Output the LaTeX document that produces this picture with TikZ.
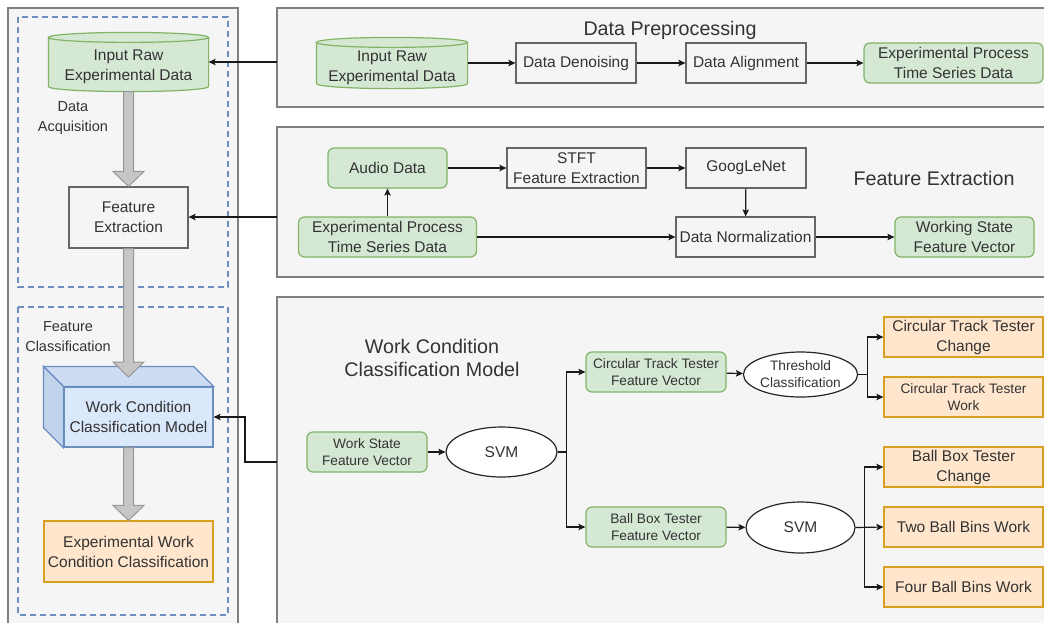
\documentclass[tikz,border=0pt]{standalone}
\usepackage{fontspec}
\setmainfont{Liberation Sans}
\usetikzlibrary{arrows.meta,calc,shapes.geometric}
\definecolor{panelfill}{HTML}{F5F5F5}
\definecolor{panelline}{HTML}{808080}
\definecolor{txt}{HTML}{333333}
\definecolor{plainline}{HTML}{666666}
\definecolor{grnfill}{HTML}{D5E8D4}
\definecolor{grnline}{HTML}{82B366}
\definecolor{orgfill}{HTML}{FFE6CC}
\definecolor{orgline}{HTML}{D7A020}
\definecolor{blufill}{HTML}{DAE8FC}
\definecolor{blutop}{HTML}{CCDCF2}
\definecolor{bluside}{HTML}{C2D3EC}
\definecolor{bluline}{HTML}{6C8EBF}
\definecolor{fatfill}{HTML}{C6C6C6}
\definecolor{fatline}{HTML}{969696}
\newcommand\txtN{\fontsize{15.5}{20}\selectfont}
\newcommand\txtS{\fontsize{13.7}{17}\selectfont}
\newcommand\txtT{\fontsize{19.7}{23}\selectfont}
\newcommand\txtL{\fontsize{14.5}{20}\selectfont}
\pgfdeclarelayer{background}
\pgfsetlayers{background,main}
\tikzset{
  panel/.style={draw=panelline,fill=panelfill,line width=1.2pt},
  groupframe/.style={draw=bluline,line width=1.5pt,dash pattern=on 6pt off 4pt},
  base/.style={inner sep=0pt,align=center,text=txt,font=\txtN,line width=1.2pt},
  plainbox/.style={base,draw=plainline},
  greenbox/.style={base,draw=grnline,fill=grnfill,rounded corners=6pt},
  orangebox/.style={base,draw=orgline,fill=orgfill},
  oval/.style={base,ellipse,draw=black!85,fill=white},
  tanktext/.style={base},
  tank/.style={draw=grnline,fill=grnfill,line width=1.2pt},
  fat/.style={draw=fatline,fill=fatfill,line width=1pt},
  label/.style={inner sep=0pt,align=center,text=txt},
  arr/.style={draw=black!90,line width=1.2pt,-{Stealth[length=7pt,width=6.5pt,inset=1.5pt]}},
}
% cylinder drawn round a text node: the node is the body below the lid,
% the lid ellipse sits just above the node's top edge
\newcommand\tankshape[1]{%
  \path[tank] let \p1=(#1.north west), \p2=(#1.south east), \n1={(\x2-\x1)/2} in
    (\x1,\y1+5pt) -- (\x1,\y2+5pt)
      arc[start angle=180,end angle=360,x radius={\n1*1pt},y radius=5pt]
      -- (\x2,\y1+5pt)
      arc[start angle=0,end angle=180,x radius={\n1*1pt},y radius=5pt] -- cycle
    (\x1+\n1*1pt,\y1+5pt) ellipse[x radius={\n1*1pt},y radius=5pt];}
% wide grey block arrow
\newcommand\fatarrow[2]{%
  \path[fat] let \p1=(#1), \p2=(#2) in
    (\x1-5pt,\y1) -- (\x1-5pt,\y2+15pt) -- (\x1-15.5pt,\y2+15pt) -- (\x1,\y2)
    -- (\x1+15.5pt,\y2+15pt) -- (\x1+5pt,\y2+15pt) -- (\x1+5pt,\y1) -- cycle;}
\begin{document}
\begin{tikzpicture}[x=1pt,y=-1pt]
\clip (0,0) rectangle (1044,622);

% ---------- text nodes ----------
% left column
\node[tanktext,minimum width=159pt,minimum height=48pt] (cyl1) at (128.5,67) {Input Raw\\Experimental Data};
\node[label,font=\txtL] (acq) at (73,118) {Data\\Acquisition};
\node[plainbox,minimum width=119pt,minimum height=61pt] (fe1) at (128.5,217.5) {Feature\\Extraction};
\node[label,font=\txtL] (fcl) at (68,337) {Feature\\Classification};
\node[base,draw=bluline,fill=blufill,minimum width=149pt,minimum height=60pt] (wcm) at (138.5,417) {Work Condition\\Classification Model};
\node[orangebox,minimum width=169pt,minimum height=61pt] (ewc) at (128.5,551.5) {Experimental Work\\Condition Classification};

% data preprocessing
\node[label,font=\txtT] (t1) at (670,30) {Data Preprocessing};
\node[tanktext,minimum width=150pt,minimum height=40pt] (cyl2) at (392,68) {Input Raw\\Experimental Data};
\node[plainbox,minimum width=120pt,minimum height=40pt] (dn) at (576,63) {Data Denoising};
\node[plainbox,minimum width=120pt,minimum height=40pt] (da) at (746,63) {Data Alignment};
\node[greenbox,minimum width=179pt,minimum height=40pt] (ets1) at (953.5,63) {Experimental Process\\Time Series Data};

% feature extraction
\node[label,font=\txtT] (t2) at (934,178) {Feature Extraction};
\node[greenbox,minimum width=119pt,minimum height=40pt] (aud) at (387.5,168) {Audio Data};
\node[plainbox,minimum width=139pt,minimum height=40pt] (stft) at (576.5,168) {STFT\\Feature Extraction};
\node[plainbox,minimum width=120pt,minimum height=40pt] (goog) at (746,168) {GoogLeNet};
\node[greenbox,minimum width=178pt,minimum height=40pt] (ets2) at (387.5,237) {Experimental Process\\Time Series Data};
\node[plainbox,minimum width=139pt,minimum height=40pt] (dnorm) at (745.5,237) {Data Normalization};
\node[greenbox,minimum width=139pt,minimum height=40pt] (wsfv) at (964.5,237) {Working State\\Feature Vector};

% work condition classification
\node[label,font=\txtT] (t3) at (432,358) {Work Condition\\Classification Model};
\node[greenbox,font=\txtS,minimum width=120pt,minimum height=40pt] (wsv) at (367,452) {Work State\\Feature Vector};
\node[oval,minimum width=111pt,minimum height=50pt] (svm1) at (501.5,452) {SVM};
\node[greenbox,font=\txtS,minimum width=140pt,minimum height=40pt] (ctfv) at (656,372) {Circular Track Tester\\Feature Vector};
\node[greenbox,font=\txtS,minimum width=140pt,minimum height=40pt] (bbfv) at (656,527) {Ball Box Tester\\Feature Vector};
\node[oval,font=\txtS,minimum width=109pt,minimum height=45pt] (thr) at (800.5,374.5) {Threshold\\Classification};
\node[oval,minimum width=109pt,minimum height=51pt] (svm2) at (800.5,527.5) {SVM};
\node[orangebox,minimum width=159pt,minimum height=40pt] (ctc) at (963.5,337) {Circular Track Tester\\Change};
\node[orangebox,font=\txtS,minimum width=159pt,minimum height=40pt] (ctw) at (963.5,397) {Circular Track Tester\\Work};
\node[orangebox,minimum width=159pt,minimum height=40pt] (bbc) at (963.5,467) {Ball Box Tester\\Change};
\node[orangebox,minimum width=159pt,minimum height=40pt] (tbb) at (963.5,527) {Two Ball Bins Work};
\node[orangebox,minimum width=159pt,minimum height=40pt] (fbb) at (963.5,587) {Four Ball Bins Work};

% ---------- page, panels and shapes behind the text ----------
\begin{pgfonlayer}{background}
  \fill[white] (0,0) rectangle (1044,622);
  \draw[panel] (8,8) rectangle (238,650);
  \draw[panel] (277,8) rectangle (1060,107);
  \draw[panel] (277,127) rectangle (1060,277);
  \draw[panel] (277,297) rectangle (1060,650);
  \draw[groupframe] (18,17) rectangle (228,287);
  \draw[groupframe] (18,307) rectangle (228,615);
  \tankshape{cyl1}
  \tankshape{cyl2}
\end{pgfonlayer}

% 3D faces of the model block
\path[draw=bluline,fill=blutop,line width=1.2pt]
  (wcm.north west) -- ++(-20,-20) -- ($(wcm.north east)+(-20,-20)$) -- (wcm.north east) -- cycle;
\path[draw=bluline,fill=bluside,line width=1.2pt]
  (wcm.north west) -- ++(-20,-20) -- ($(wcm.south west)+(-20,-20)$) -- (wcm.south west) -- cycle;

% ---------- block arrows of the left column ----------
\coordinate (wcmtop) at (ewc.north |- 0,377);
\fatarrow{cyl1.south}{fe1.north}
\fatarrow{fe1.south}{wcmtop}
\fatarrow{ewc.north |- wcm.south}{ewc.north}

% ---------- connectors ----------
\draw[arr] (cyl2.east |- dn) -- (dn);
\draw[arr] (dn) -- (da);
\draw[arr] (da) -- (ets1);

\draw[arr] (ets2) -- (aud);
\draw[arr] (aud) -- (stft);
\draw[arr] (stft) -- (goog);
\draw[arr] (goog) -- (dnorm);
\draw[arr] (ets2) -- (dnorm);
\draw[arr] (dnorm) -- (wsfv);

\draw[arr] (wsv) -- (svm1);
\draw[arr] (svm1.east) -- ++(9,0) |- (ctfv.west);
\draw[arr] (svm1.east) -- ++(9,0) |- (bbfv.west);
\draw[arr] (ctfv) -- (thr);
\draw[arr] (bbfv) -- (svm2);
\draw[arr] (thr.east) -- ++(9,0) |- (ctc.west);
\draw[arr] (thr.east) -- ++(9,0) |- (ctw.west);
\draw[arr] (svm2.east) -- ++(9,0) |- (bbc.west);
\draw[arr] (svm2.east) -- (tbb.west);
\draw[arr] (svm2.east) -- ++(9,0) |- (fbb.west);

% links from the stage panels to the left column
\coordinate (prepL) at (277,62);
\coordinate (featL) at (277,217);
\coordinate (clsL) at (277,462);
\draw[arr] (prepL) -- (cyl1.east |- prepL);
\draw[arr] (featL) -- (fe1.east |- featL);
\draw[arr] (clsL) -- ++(-32,0) |- (wcm.east);
\end{tikzpicture}
\end{document}
